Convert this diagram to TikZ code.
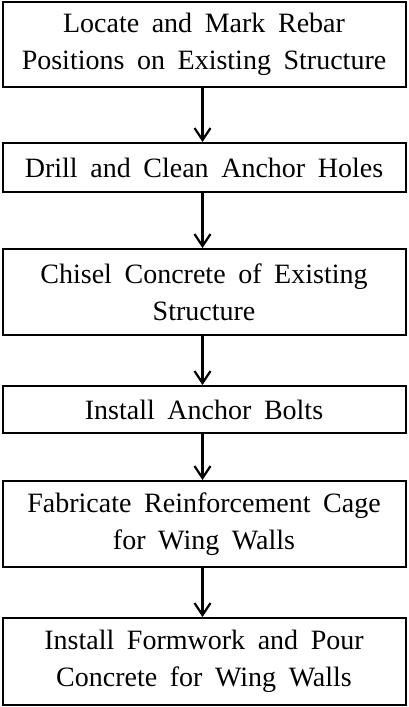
\documentclass[tikz,border=0pt]{standalone}
\usepackage{fontspec}
\setmainfont[WordSpace=1.8]{Liberation Serif}
\usetikzlibrary{arrows.meta}

\begin{document}
\begin{tikzpicture}[x=1pt, y=-1pt, >={Straight Barb[length=12pt,width=16pt]},
  stepbox/.style={draw, line width=2pt, minimum width=403pt, inner sep=0pt,
    align=center, font=\fontsize{28}{37}\selectfont}]
  \useasboundingbox (0,0) rectangle (409,707);
  % process steps, top and bottom edge of each box
  \foreach \n/\yt/\yb/\txt in {
      loc/2/87/{Locate and Mark Rebar\\Positions on Existing Structure},
      drill/143/192/{Drill and Clean Anchor Holes},
      chisel/249/335/{Chisel Concrete of Existing\\Structure},
      bolts/386/433/{Install Anchor Bolts},
      cage/481/567/{Fabricate Reinforcement Cage\\for Wing Walls},
      pour/618/705/{Install Formwork and Pour\\Concrete for Wing Walls}}{
    \node[stepbox, minimum height=\yb-\yt] (\n) at (204,{(\yt+\yb)/2}) {\txt};
  }
  % flow arrows
  \foreach \s/\t in {loc/drill, drill/chisel, chisel/bolts, bolts/cage, cage/pour}{
    \draw[->, line width=2.2pt] ([xshift=-1.5pt]\s.south) -- ([xshift=-1.5pt]\t.north);
  }
\end{tikzpicture}
\end{document}
